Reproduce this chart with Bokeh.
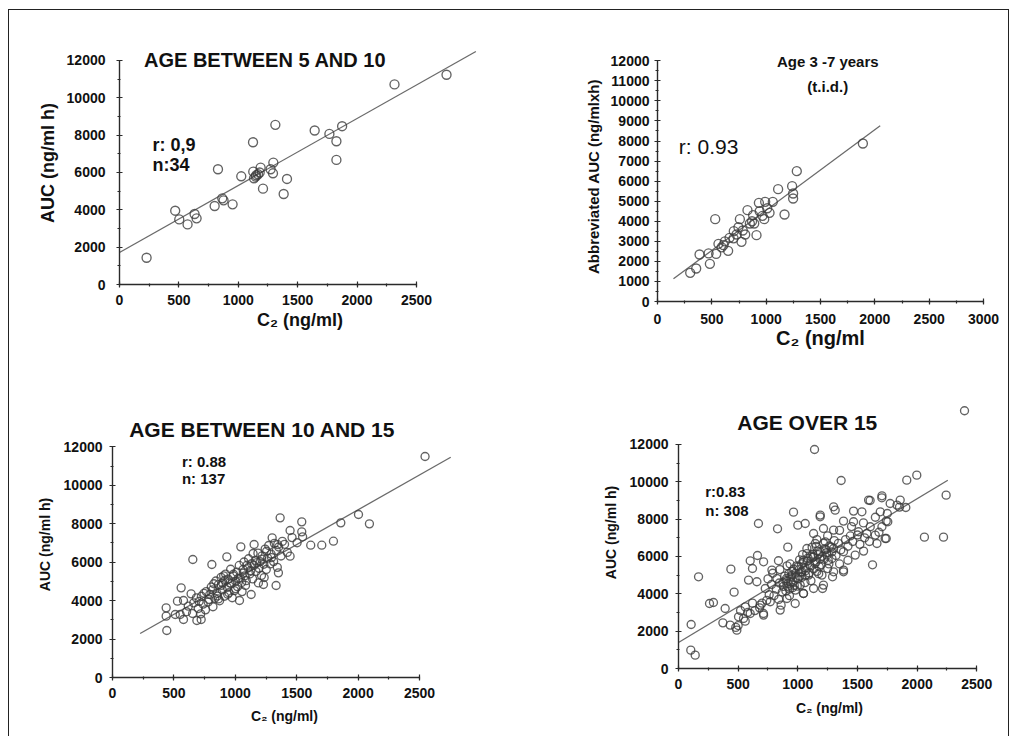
from bokeh.plotting import figure
from bokeh.layouts import column, row
from bokeh.models import SingleIntervalTicker, Label, Range1d
from bokeh.embed import file_html
from bokeh.resources import INLINE

FONT = "Liberation Sans"

# ---------------- Panel 1: AGE BETWEEN 5 AND 10 ----------------
p1_title = "AGE BETWEEN 5 AND 10"
p1_stats = ["r: 0,9", "n:34"]
p1_x = [228, 469, 503, 573, 632, 649, 801, 829, 865, 876, 952, 1025, 1124, 1126, 1132,
        1146, 1166, 1188, 1208, 1272, 1292, 1295, 1312, 1382, 1410, 1643, 1767, 1826,
        1826, 1874, 2315, 2753, 1150, 1180]
p1_y = [1431, 3953, 3488, 3220, 3775, 3542, 4204, 6172, 4615, 4508, 4293, 5796, 7621, 6046, 5689,
        5778, 5903, 6261, 5134, 6172, 5957, 6530, 8551, 4848, 5653, 8247, 8068, 7674,
        6673, 8479, 10716, 11234, 5850, 6000]
p1_fit_x = [0, 3000]
p1_fit_y = [1714, 12482]

# ---------------- Panel 2: Age 3 -7 years (t.i.d.) ----------------
p2_title = ["Age 3 -7 years", "(t.i.d.)"]
p2_stats = "r: 0.93"
p2_x = [301, 356, 387, 482, 531, 540, 561, 607, 650, 663, 702, 727, 758, 773, 785, 807, 828,
        850, 880, 890, 911, 933, 966, 982, 991, 1031, 1061, 1110, 1169, 1239, 1248, 1248,
        1282, 1890, 470, 590, 620, 700, 745, 870, 940, 1010]
p2_y = [1429, 1645, 2343, 1878, 4105, 2376, 2875, 2809, 2526, 3174, 3507, 3341, 4105, 2975,
        3540, 3341, 4554, 3889, 4304, 3889, 3307, 4920, 4271, 4105, 4969, 4421, 4969, 5601,
        4338, 5750, 5136, 5385, 6498, 7878, 2400, 2700, 3000, 3150, 3700, 4000, 4500, 4650]
p2_fit_x = [147, 2049]
p2_fit_y = [1130, 8758]

# ---------------- Panel 3: AGE BETWEEN 10 AND 15 ----------------
p3_title = "AGE BETWEEN 10 AND 15"
p3_stats = ["r: 0.88", "n: 137"]
p3_x = [2545, 2092, 2003, 1859, 1799, 1704, 1614, 1541, 1541, 1365, 1446, 1446, 1332, 442, 437,
        559, 654, 578, 529, 437, 551, 578, 640, 687, 722, 809, 931, 1045, 1153, 1129, 1229,
        1034, 1351, 1300,
        511, 603, 617, 662, 683, 698, 724, 738, 763, 779, 792, 804, 818, 833, 842, 851, 863,
        872, 884, 893, 897, 912, 921, 934, 942, 948, 962, 968, 983, 992, 1003, 1012, 1018,
        1032, 1041, 1052, 1063, 1071, 1077, 1089, 1103, 1108, 1118, 1133, 1141, 1152, 1162,
        1168, 1184, 1193, 1202, 1213, 1218, 1232, 1243, 1252, 1263, 1272, 1284, 1291, 1312,
        1318, 1334, 1342, 1353, 1372, 1383, 1401, 1423, 1462, 1503, 1548, 718, 757, 862, 938,
        1002, 1083, 1188, 652,
        705, 745, 785, 815, 855, 885, 915, 955, 985, 1025, 1065, 1095, 1125, 1175, 1215, 1255,
        1295, 1345, 825, 905, 975, 1055, 1145, 1235]
p3_y = [11497, 7994, 8480, 8047, 7092, 6884, 6884, 8098, 7578, 8306, 7647, 6312, 4786, 2445, 3624,
        4665, 6138, 4006, 3971, 3191, 3277, 3017, 4353, 2966, 3017, 5878, 6277, 6797, 6918,
        4318, 4838, 4006, 5444, 7265,
        3278, 3420, 3710, 3880, 4140, 3590, 4230, 3820, 4470, 3930, 4320, 4710, 3680, 4120,
        5020, 4380, 4830, 3990, 5210, 4560, 4920, 4230, 5380, 4690, 5120, 4410, 5630, 4880,
        5290, 4520, 5010, 5480, 4720, 5830, 5170, 4940, 5620, 6010, 5290, 5040, 5710, 6180,
        5390, 5920, 5130, 5830, 6090, 5520, 6470, 5680, 6020, 5310, 6330, 5890, 6680, 5620,
        6210, 6870, 5910, 6420, 6030, 6980, 6610, 5730, 6790, 6320, 7080, 6930, 6510, 7280,
        7010, 7320, 3310, 3520, 4090, 4330, 4620, 4790, 4920, 3330,
        3960, 4380, 4060, 4560, 4240, 4790, 5060, 4920, 5370, 5160, 5430, 5840, 5560, 5980,
        6160, 6570, 6240, 6910, 4880, 5290, 4150, 4470, 6450, 5200]
p3_fit_x = [225, 2754]
p3_fit_y = [2289, 11462]

# ---------------- Panel 4: AGE OVER 15 ----------------
p4_title = "AGE OVER 15"
p4_stats = ["r:0.83", "n: 308"]
p4_x = [2397, 1140, 1363, 1997, 1913, 2243, 2061, 2221, 1852, 1905, 1704, 1606, 1754, 1732, 1626,
        670, 830, 1000, 964, 916, 662, 601, 439, 168, 260, 106, 103, 140, 466, 372, 1383, 1291,
        1207, 1047, 860, 712, 489, 559, 1313, 1187,
        620, 713, 838, 783, 587, 657, 727, 825, 951, 1020, 909, 769, 685, 601, 503, 391, 433,
        545, 713, 852, 978, 293,
        1705, 1858, 1774, 1593, 1300, 1467, 1537, 1691, 1188, 1062, 1383, 1467, 1607, 1705,
        1741, 1831, 1132, 1215, 1300, 1509, 1579, 1649, 1741, 1663, 1551, 1481, 1383, 1300,
        1230, 1146, 1076, 1048, 1132, 1188, 1286, 1383, 1300, 1202, 1215, 1132, 1090, 1034,
        1048,
        880, 900, 920, 940, 960, 980, 1000, 1010, 870, 890, 930, 950, 970, 990, 1015, 1030,
        1060, 1080, 1100, 1110, 1150, 1170, 1180, 1220, 1240, 1260, 1280, 1320, 1340, 1360,
        1400, 1420, 1440, 1460, 1500, 1520, 800, 820, 840, 760, 780, 740, 700, 680, 640, 620,
        580, 560, 520, 500, 480, 750, 790, 850, 910, 1040, 1120, 1160, 1250, 1350, 1450, 1550,
        1650, 1750, 1600, 1680, 1560, 1420, 1350, 1250, 1160, 1110, 1060, 980, 930, 900,
        905, 925, 945, 965, 985, 1005, 1025, 1045, 1065, 1085, 1105, 1125, 1145, 1165, 1185,
        1205, 1225, 1245, 1265, 1285, 955, 1035, 1095, 1195, 875, 915, 1075, 1135, 1215, 1305,
        845, 1015, 1155, 1255, 995, 1065, 1175, 1235, 935, 1125]
p4_y = [13804, 11732, 10071, 10357, 10089, 9286, 7036, 7036, 8643, 8625, 9143, 9000, 7857, 6964,
        5554, 7768, 7482, 7679, 8375, 6500, 6054, 5768, 5321, 4911, 3482, 2357, 982, 714, 4089,
        2446, 5179, 4911, 4286, 4018, 3393, 2946, 2054, 2536, 8482, 8125,
        5356, 5715, 5769, 5270, 4735, 4644, 4285, 4821, 5003, 4467, 3749, 3573, 3396, 2946,
        2769, 3214, 2325, 2678, 2860, 3128, 3482, 3535,
        9250, 9020, 8838, 9020, 8661, 8430, 8393, 8393, 8216, 7767, 7895, 7858, 7590, 7590,
        7895, 8751, 7231, 7499, 7413, 7322, 7231, 7145, 6963, 6695, 6288, 6074, 6251, 6427,
        6786, 6695, 6427, 5806, 5983, 6251, 5892, 5271, 5179, 5003, 4467, 4285, 5003, 5179,
        4017,
        4400, 4700, 4550, 4900, 4650, 5100, 4800, 5300, 4100, 4950, 4250, 5200, 4450, 5500,
        4950, 5600, 5400, 5750, 5550, 6000, 5700, 6100, 5450, 5850, 6200, 5600, 6500, 6050,
        6700, 6350, 6900, 6550, 7100, 6800, 7150, 6650, 3900, 4250, 3700, 3950, 4500, 3650,
        3500, 3250, 3100, 3500, 3000, 3300, 3100, 2300, 2200, 4800, 5100, 5300, 5500, 6100,
        6500, 6900, 7100, 7400, 7600, 7800, 8100, 8300, 6800, 7300, 7000, 5800, 5600, 5350,
        5200, 4700, 4600, 4200, 3900, 4150,
        4820, 5080, 4630, 5320, 4880, 5460, 5150, 5690, 5240, 5910, 5480, 6120, 5630, 6290,
        5870, 6010, 6420, 6080, 6560, 6240, 4330, 4890, 5120, 5560, 4610, 4400, 6150, 5350,
        6710, 6850, 4580, 5820, 6540, 5790, 4410, 4980, 5080, 6380, 5600, 5950]
p4_fit_x = [0, 2257]
p4_fit_y = [1394, 10084]

x_label = "C\u2082 (ng/ml)"
x_label_2 = "C\u2082 (ng/ml"
y_label = "AUC (ng/ml h)"
y_label_2 = "Abbreviated AUC (ng/mlxh)"

PT = "#3c3c3c"
AX = "#2a2a2a"
TX = "#111111"


def make_fig(w, h, left, right, top, bottom, xr, yr):
    p = figure(width=w, height=h, x_range=Range1d(*xr), y_range=Range1d(*yr),
               title=None, output_backend="svg", toolbar_location=None,
               frame_align=False,
               min_border_left=left, min_border_right=right,
               min_border_top=top, min_border_bottom=bottom)
    p.grid.visible = False
    p.outline_line_color = None
    p.background_fill_color = "white"
    p.border_fill_color = "white"
    return p


def style_axes(p, xb, yb, xint, yint, tick_size, label_size, xlab, ylab,
               y_std, x_std, ylab_std, xlab_std):
    specs = [(p.xaxis[0], xb, xint, x_std, xlab, xlab_std),
             (p.yaxis[0], yb, yint, y_std, ylab, ylab_std)]
    for ax, b, iv, std, lab, lstd in specs:
        ax.bounds = b
        ax.ticker = SingleIntervalTicker(interval=iv, num_minor_ticks=2)
        ax.axis_line_color = AX
        ax.axis_line_width = 1.4
        ax.major_tick_line_color = AX
        ax.major_tick_line_width = 1.2
        ax.minor_tick_line_color = AX
        ax.minor_tick_line_width = 1.2
        ax.major_tick_in = 3
        ax.major_tick_out = 3
        ax.minor_tick_in = 1
        ax.minor_tick_out = 2
        ax.major_label_standoff = std + 1
        ax.major_label_text_font = FONT
        ax.major_label_text_font_style = "bold"
        ax.major_label_text_font_size = tick_size
        ax.major_label_text_color = TX
        ax.axis_label = lab
        ax.axis_label_standoff = lstd
        ax.axis_label_text_font = FONT
        ax.axis_label_text_font_style = "bold"
        ax.axis_label_text_font_size = label_size
        ax.axis_label_text_color = TX


def add_label(p, x, y, text, size, style="bold", align="left"):
    p.add_layout(Label(x=x, y=y, text=text, text_font=FONT, text_font_size=size,
                       text_font_style=style, text_color=TX, text_align=align,
                       text_baseline="middle"))


def add_points(p, xs, ys, fx, fy, size):
    p.line(fx, fy, line_color="#6a6a6a", line_width=1.3)
    p.scatter(xs, ys, marker="circle", size=size, fill_color=None,
              line_color=PT, line_width=1.35, line_alpha=0.8)


# Panel 1
p1 = make_fig(499, 364, 110, 28, 31, 90, (0, 3039), (0, 13016))
style_axes(p1, (0, 2500), (0, 12000), 500, 2000, "14px", "18px", x_label, y_label,
           10, 6, 6, 2)
add_points(p1, p1_x, p1_y, p1_fit_x, p1_fit_y, 9)
add_label(p1, 1226, 12035, p1_title, "20px", align="center")
add_label(p1, 278, 7472, p1_stats[0], "18px")
add_label(p1, 278, 6427, p1_stats[1], "18px")

# Panel 2
p2 = make_fig(500, 364, 149, 25, 41, 73, (0, 3000), (0, 12463))
style_axes(p2, (0, 3000), (0, 12000), 500, 1000, "14px", "15px", x_label_2, y_label_2,
           4, 8, 6, 0)
p2.xaxis[0].axis_label_text_font_size = "20px"
add_points(p2, p2_x, p2_y, p2_fit_x, p2_fit_y, 9)
add_label(p2, 1567, 11949, p2_title[0], "15px", align="center")
add_label(p2, 1567, 10738, p2_title[1], "15px", align="center")
add_label(p2, 196, 7712, p2_stats, "21px", style="normal")

# Panel 3
p3 = make_fig(499, 362, 103, 52, 37, 59, (0, 2801), (0, 13840))
style_axes(p3, (0, 2500), (0, 12000), 500, 2000, "14px", "14px", x_label, y_label,
           6, 6, 8, 7)
add_points(p3, p3_x, p3_y, p3_fit_x, p3_fit_y, 8)
add_label(p3, 1219, 12919, p3_title, "21px", align="center")
add_label(p3, 565, 11254, p3_stats[0], "15px")
add_label(p3, 565, 10354, p3_stats[1], "15px")

# Panel 4
p4 = make_fig(500, 362, 170, 28, 22, 68, (0, 2531), (0, 14569))
style_axes(p4, (0, 2500), (0, 12000), 500, 2000, "14px", "14px", x_label, y_label,
           6, 6, 8, 8)
add_points(p4, p4_x, p4_y, p4_fit_x, p4_fit_y, 8)
add_label(p4, 1079, 13160, p4_title, "21px", align="center")
add_label(p4, 224, 9465, p4_stats[0], "15px")
add_label(p4, 224, 8484, p4_stats[1], "15px")

layout = column(row(p1, p2), row(p3, p4), margin=(9, 0, 0, 8),
                styles={"border-top": "1px solid #222", "border-left": "1px solid #222",
                        "border-right": "1px solid #222"})

open("out.html", "w").write(file_html(layout, INLINE))
